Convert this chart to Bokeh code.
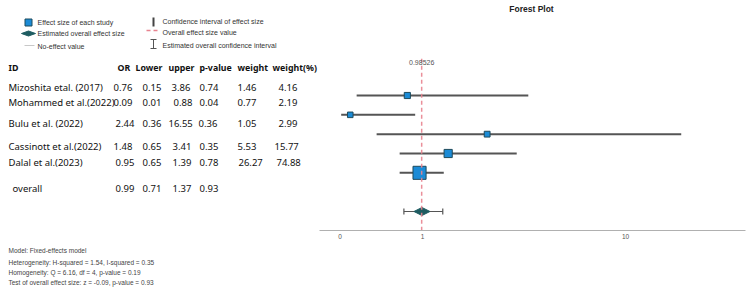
import numpy as np
from bokeh.plotting import figure
from bokeh.layouts import row
from bokeh.models import Range1d, CustomJSTickFormatter, FixedTicker, ColumnDataSource
from bokeh.core.properties import value
from bokeh.embed import file_html
from bokeh.resources import INLINE

# ---------------- data ----------------
studies = ["Mizoshita etal. (2017)", "Mohammed et al.(2022)", "Bulu et al. (2022)",
           "Cassinott et al.(2022)", "Dalal et al.(2023)"]
odds_ratio = [0.76, 0.09, 2.44, 1.48, 0.95]
ci_lower = [0.15, 0.01, 0.36, 0.65, 0.65]
ci_upper = [3.86, 0.88, 16.55, 3.41, 1.39]
p_values = [0.74, 0.04, 0.36, 0.35, 0.78]
weights = [1.46, 0.77, 1.05, 5.53, 26.27]
weights_pct = [4.16, 2.19, 2.99, 15.77, 74.88]

overall_label = "overall"
overall_or = 0.99
overall_lower = 0.71
overall_upper = 1.37
overall_p = 0.93
pooled_value = 0.98526

x_ticks = [0, 1, 10]
headers = ["ID", "OR", "Lower", "upper", "p-value", "weight", "weight(%)"]
footer_lines = [
    "Model: Fixed-effects model",
    "Heterogeneity: H-squared = 1.54, I-squared = 0.35",
    "Homogeneity: Q = 6.16, df = 4, p-value = 0.19",
    "Test of overall effect size: z = -0.09, p-value = 0.93",
]

# ---------------- styles ----------------
TABLE_FONT = value("Noto Sans")
SMALL_FONT = value("Liberation Sans")
SQ_FILL = "#1b8bd6"
SQ_LINE = "#1d4a5c"
DIA_FILL = "#1e5c61"
CI_COLOR = "#555555"
RED = "#e8838f"

# ---------------- left panel: legend + table + footer ----------------
L = figure(width=319, height=290, x_range=Range1d(0, 319), y_range=Range1d(290, 0),
           toolbar_location=None, output_backend="svg", min_border=0,
           x_axis_location=None, y_axis_location=None)
L.grid.visible = False
L.outline_line_color = None
L.frame_align = False

# legend icons
L.scatter([28], [22], marker="square", size=7, fill_color=SQ_FILL, line_color=SQ_LINE)
L.patch([21, 28, 35, 28], [33, 30.5, 33, 35.5], fill_color=DIA_FILL, line_color=DIA_FILL)
L.segment([24], [45], [34], [45], line_color="#c8c8c8", line_width=1)
L.segment([153], [17], [153], [26], line_color="#444444", line_width=2)
L.segment([146], [30], [158], [30], line_color=RED, line_width=1.3, line_dash="4 3")
L.segment([153], [39], [153], [48], line_color="#555555", line_width=1)
L.segment([150, 150], [39, 48], [156, 156], [39, 48], line_color="#555555", line_width=1)

leg_txt = ["Effect size of each study", "Estimated overall effect size", "No-effect value",
           "Confidence interval of effect size", "Overall effect size value",
           "Estimated overall confidence interval"]
L.text(x=[37, 37, 37, 162, 162, 162], y=[22, 33, 46, 21, 32, 45], text=leg_txt,
       text_font=SMALL_FONT, text_font_size="7px", text_color="#333333",
       text_baseline="middle", text_align="left")

# table header
hdr_x = [8, 117, 135, 168, 199, 237, 272]
L.text(x=hdr_x, y=[67] * len(headers), text=headers, text_font=TABLE_FONT,
       text_font_size="8.8px", text_font_style="bold", text_color="#111111",
       text_baseline="middle", text_align="left")

# table rows
row_y = [87, 102, 123, 146, 162]
overall_y = 188
cell_x = [
    [113, 142, 171, 199, 237, 278],
    [113, 142, 173, 199, 237, 278],
    [115, 142, 168, 198, 237, 278],
    [113, 142, 172, 199, 237, 274],
    [115, 142, 172, 199, 238, 276],
]
fmt = lambda v: "%.2f" % v
tx, ty, tt = [], [], []
for i, s in enumerate(studies):
    vals = [fmt(odds_ratio[i]), fmt(ci_lower[i]), fmt(ci_upper[i]), fmt(p_values[i]),
            fmt(weights[i]), fmt(weights_pct[i])]
    for x, t in zip([8] + cell_x[i], [s] + vals):
        tx.append(x); ty.append(row_y[i]); tt.append(t)
for x, t in zip([12, 115, 142, 172, 199],
                [overall_label, fmt(overall_or), fmt(overall_lower), fmt(overall_upper), fmt(overall_p)]):
    tx.append(x); ty.append(overall_y); tt.append(t)
L.text(x=tx, y=ty, text=tt, text_font=TABLE_FONT, text_font_size="9.5px",
       text_color="#111111", text_baseline="middle", text_align="left")

# footer
L.text(x=[8] * 4, y=[250, 262, 272, 282], text=footer_lines, text_font=SMALL_FONT,
       text_font_size="6.5px", text_color="#444444", text_baseline="middle", text_align="left")

# ---------------- right panel: forest plot ----------------
def tr(v):
    return np.log1p(np.asarray(v, dtype=float))

rows = np.arange(1, len(studies) + 1)
overall_row = 7

R = figure(width=431, height=290, x_range=Range1d(-0.1721, 3.4047), y_range=Range1d(7.983, -3.914),
           toolbar_location=None, output_backend="svg", y_axis_location=None,
           min_border_left=0, min_border_right=5, min_border_top=0, min_border_bottom=60)
R.grid.visible = False
R.outline_line_color = None
R.frame_align = False

ax = R.xaxis[0]
ax.ticker = FixedTicker(ticks=list(tr(x_ticks)))
ax.formatter = CustomJSTickFormatter(code="return String(Math.round(Math.expm1(tick)));")
ax.axis_line_color = "#b0b0b0"
ax.axis_line_width = 1
ax.major_tick_out = 0
ax.major_tick_in = 0
ax.minor_tick_out = 0
ax.minor_tick_in = 0
ax.major_label_text_font = "Liberation Sans"
ax.major_label_text_font_size = "6.5px"
ax.major_label_text_color = "#555555"
ax.major_label_standoff = 3

src = ColumnDataSource(dict(
    lo=tr(ci_lower), hi=tr(ci_upper), est=tr(odds_ratio), y=rows,
    size=4 + np.sqrt(np.asarray(weights_pct)) * 1.05))
R.segment(x0="lo", y0="y", x1="hi", y1="y", source=src, line_color=CI_COLOR, line_width=2)
R.scatter(x="est", y="y", size="size", marker="square", source=src,
          fill_color=SQ_FILL, line_color=SQ_LINE, line_width=1)

# overall CI with caps
olo, ohi, oc = tr(overall_lower), tr(overall_upper), tr(overall_or)
R.segment([olo], [overall_row], [ohi], [overall_row], line_color=CI_COLOR, line_width=1.2)
R.segment([olo, ohi], [overall_row - 0.16, overall_row - 0.16], [olo, ohi],
          [overall_row + 0.16, overall_row + 0.16], line_color=CI_COLOR, line_width=1.2)
hw, hh = 8 / 119.1, 4 / 19.333
R.patch([oc - hw, oc, oc + hw, oc], [overall_row, overall_row - hh, overall_row, overall_row + hh],
        fill_color=DIA_FILL, line_color=DIA_FILL)

# pooled value dashed line + label
pv = tr(pooled_value)
R.segment([pv], [-0.9], [pv], [7.983], line_color=RED, line_width=1.5, line_dash="4 3", line_alpha=0.9)
R.text(x=[pv], y=[-0.707], text=["%g" % pooled_value], text_font=SMALL_FONT, text_font_size="7px",
       text_color="#555555", text_align="center", text_baseline="middle")

# title
R.text(x=[(531 - 339.5) / 119.1], y=[1 + (8 - 95) / 19.333], text=["Forest Plot"],
       text_font=SMALL_FONT, text_font_size="8.5px", text_font_style="bold",
       text_color="#222222", text_align="center", text_baseline="middle")

layout = row(L, R, spacing=0)
open("out.html", "w").write(file_html(layout, INLINE))
